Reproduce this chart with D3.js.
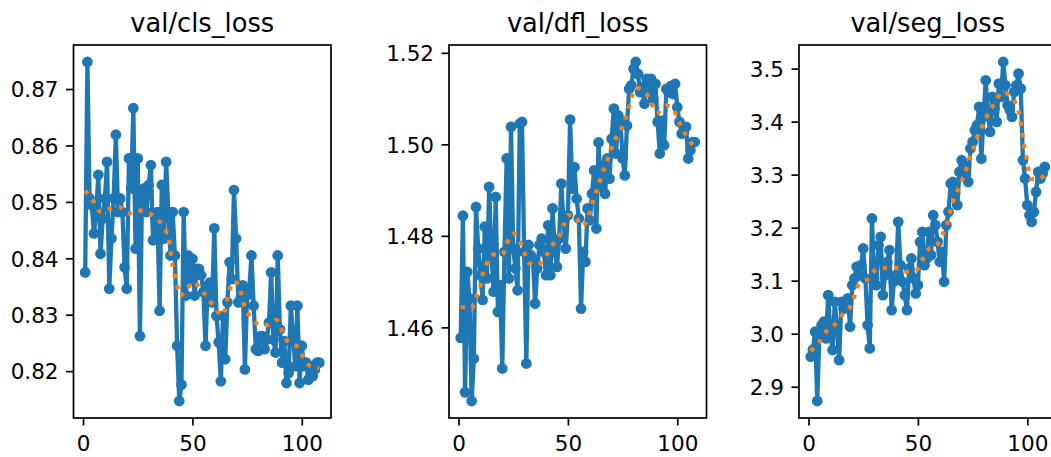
<!DOCTYPE html>
<html>
<head>
<meta charset="utf-8">
<script src="https://cdn.jsdelivr.net/npm/d3@7"></script>
<style>
  body { margin: 0; background: #fff; }
  svg { display: block; font-family: "DejaVu Sans", sans-serif; }
</style>
</head>
<body>
<div id="chart"></div>
<script>
// values, one per epoch (1..108)
let clsLoss = [
  0.8375, 0.8748, 0.8506, 0.8494, 0.8444, 0.8482, 0.8548, 0.8408, 0.8470, 0.8506,
  0.8571, 0.8346, 0.8435, 0.8506, 0.8619, 0.8482, 0.8506, 0.8482, 0.8384, 0.8346,
  0.8577, 0.8524, 0.8666, 0.8417, 0.8577, 0.8262, 0.8518, 0.8524, 0.8482, 0.8530,
  0.8565, 0.8432, 0.8470, 0.8482, 0.8307, 0.8530, 0.8435, 0.8571, 0.8480, 0.8405,
  0.8482, 0.8405, 0.8245, 0.8147, 0.8176, 0.8482, 0.8334, 0.8405, 0.8363, 0.8399,
  0.8334, 0.8381, 0.8381, 0.8370, 0.8340, 0.8245, 0.8352, 0.8357, 0.8322, 0.8453,
  0.8298, 0.8251, 0.8182, 0.8298, 0.8221, 0.8322, 0.8393, 0.8363, 0.8521, 0.8435,
  0.8322, 0.8328, 0.8352, 0.8203, 0.8334, 0.8346, 0.8405, 0.8316, 0.8239, 0.8236,
  0.8262, 0.8262, 0.8239, 0.8256, 0.8286, 0.8375, 0.8256, 0.8233, 0.8405, 0.8274,
  0.8215, 0.8253, 0.8179, 0.8197, 0.8316, 0.8262, 0.8209, 0.8316, 0.8179, 0.8245,
  0.8209, 0.8215, 0.8185, 0.8209, 0.8191, 0.8203, 0.8215, 0.8215
];
let dflLoss = [
  1.4577, 1.4844, 1.4458, 1.4721, 1.4663, 1.4439, 1.4532, 1.4863, 1.4772, 1.4714,
  1.4660, 1.4820, 1.4707, 1.4907, 1.4765, 1.4678, 1.4885, 1.4634, 1.4692, 1.4510,
  1.4765, 1.4969, 1.4707, 1.5038, 1.4772, 1.4729, 1.4681, 1.5045, 1.5049, 1.4765,
  1.4521, 1.4780, 1.4758, 1.4750, 1.4652, 1.4729, 1.4780, 1.4794, 1.4765, 1.4714,
  1.4823, 1.4714, 1.4860, 1.4765, 1.4732, 1.4794, 1.4914, 1.4830, 1.4772, 1.4845,
  1.5054, 1.4903, 1.4950, 1.4881, 1.4838, 1.4641, 1.4765, 1.4743, 1.4860, 1.4834,
  1.4892, 1.4943, 1.4816, 1.5004, 1.4907, 1.4954, 1.4892, 1.4969, 1.4925, 1.5012,
  1.5078, 1.4980, 1.5063, 1.5052, 1.4969, 1.4932, 1.5041, 1.5121, 1.5129, 1.5165,
  1.5180, 1.5154, 1.5114, 1.5125, 1.5089, 1.5143, 1.5114, 1.5143, 1.5100, 1.5132,
  1.5049, 1.4980, 1.5052, 1.4998, 1.5121, 1.5114, 1.5127, 1.5110, 1.5132, 1.5081,
  1.5049, 1.5023, 1.5027, 1.5038, 1.4969, 1.4987, 1.5005, 1.5005
];
let segLoss = [
  2.9566, 2.9700, 3.0037, 2.8730, 3.0037, 3.0163, 3.0225, 2.9911, 3.0728, 2.9974,
  2.9692, 3.0602, 3.0100, 2.9503, 3.0602, 3.0477, 3.0477, 3.0665, 3.0131, 3.0916,
  3.1042, 3.1262, 3.1105, 3.1293, 3.1607, 3.1042, 3.0163, 2.9723, 3.2173, 3.1042,
  3.0916, 3.1670, 3.1827, 3.0728, 3.1105, 3.1356, 3.1576, 3.0445, 3.0979, 3.1105,
  3.2110, 3.1293, 3.0979, 3.0728, 3.0445, 3.1230, 3.1419, 3.1042, 3.0759, 3.0916,
  3.1733, 3.1921, 3.1293, 3.1419, 3.1921, 3.1482, 3.2235, 3.2047, 3.1733, 3.1356,
  3.1545, 3.0979, 3.2047, 3.2298, 3.2832, 3.2864, 3.2644, 3.2424, 3.3052, 3.3272,
  3.3178, 3.3021, 3.2864, 3.3492, 3.3617, 3.3837, 3.3931, 3.4277, 3.3303, 3.4089,
  3.4779, 3.4151, 3.3806, 3.4465, 3.4246, 3.3994, 3.4717, 3.4465, 3.5125, 3.4685,
  3.4308, 3.4214, 3.4089, 3.4560, 3.4685, 3.4905, 3.4622, 3.3272, 3.2926, 3.2424,
  3.2235, 3.2110, 3.2298, 3.2675, 3.3052, 3.2926, 3.3021, 3.3146
];

// dotted "smooth" line as [epoch, value]
let clsSmooth = [
  [1, 0.8520], [5, 0.8500], [8, 0.8482], [12.5, 0.8488], [16.6, 0.8491], [20.5, 0.8479],
  [25, 0.8485], [29.6, 0.8481], [33.7, 0.8470], [36.9, 0.8455], [39.1, 0.8436], [40.6, 0.8396],
  [41.8, 0.8372], [42.9, 0.8353], [44.4, 0.8334], [47.2, 0.8343], [50.5, 0.8359], [54, 0.8344],
  [57.4, 0.8328], [60.6, 0.8310], [64, 0.8299], [66.7, 0.8340], [68.6, 0.8359], [71.2, 0.8352],
  [73.9, 0.8313], [77, 0.8295], [80.8, 0.8282], [84.6, 0.8282], [88.4, 0.8291], [91, 0.8271],
  [93.7, 0.8252], [98, 0.8243], [100.9, 0.8224], [104, 0.8208], [108, 0.8205]
];
let dflSmooth = [
  [1, 1.4645], [6, 1.4641], [8, 1.4665], [10, 1.4691], [11, 1.4714], [13, 1.4740],
  [16, 1.4759], [20, 1.4759], [22, 1.4783], [25, 1.4805], [28, 1.4789], [30, 1.4765],
  [32, 1.4741], [36, 1.4736], [40, 1.4756], [43, 1.4780], [46, 1.4799], [48, 1.4822],
  [50, 1.4845], [53, 1.4845], [56, 1.4822], [59, 1.4834], [60.5, 1.4860], [62, 1.4884],
  [64, 1.4909], [65.5, 1.4934], [67.5, 1.4958], [69, 1.4981], [71, 1.5005], [73.5, 1.5027],
  [76, 1.5050], [77.5, 1.5076], [79, 1.5101], [81, 1.5123], [85, 1.5116], [88, 1.5092],
  [90.5, 1.5068], [95, 1.5085], [98, 1.5078], [100.5, 1.5052], [103, 1.5028], [106, 1.5005],
  [108, 1.4995]
];
let segSmooth = [
  [1, 2.9673], [5, 2.9849], [8, 3.0037], [12, 3.0175], [15, 3.0338], [19.5, 3.0540],
  [23, 3.0929], [27.5, 3.1042], [31, 3.1218], [36, 3.1243], [40, 3.1243], [45, 3.1168],
  [49, 3.1186], [52, 3.1388], [54.5, 3.1576], [59, 3.1689], [61.5, 3.1890], [63.5, 3.2078],
  [65, 3.2330], [66.5, 3.2537], [68.5, 3.2738], [70.5, 3.2926], [72.5, 3.3146], [74, 3.3366],
  [75.7, 3.3542], [77.7, 3.3775], [80, 3.3963], [82.5, 3.4183], [85.3, 3.4359], [88.4, 3.4560],
  [93, 3.4453], [95.3, 3.4277], [96.8, 3.4057], [97.6, 3.3818], [98.3, 3.3605], [99.4, 3.3379],
  [100.2, 3.3165], [101.4, 3.2926], [105, 3.2914], [108, 3.3000]
];

let titles = ["val/cls_loss", "val/dfl_loss", "val/seg_loss"];
let xTicks = [0, 50, 100];
let clsTicks = [0.82, 0.83, 0.84, 0.85, 0.86, 0.87];
let dflTicks = [1.46, 1.48, 1.50, 1.52];
let segTicks = [2.9, 3.0, 3.1, 3.2, 3.3, 3.4, 3.5];

// layout
let width = 1051, height = 457;
let panelLefts = [73.5, 449, 799];
let panelTop = 45, panelW = 257.5, panelH = 373;
let fontSize = 21.5, titleSize = 25.7;
let blue = "#1f77b4", orange = "#ff7f0e";

let svg = d3.select("#chart").append("svg")
  .attr("width", width)
  .attr("height", height);

// matplotlib style 5% margins
function pad(ext) {
  let m = (ext[1] - ext[0]) * 0.05;
  return [ext[0] - m, ext[1] + m];
}

function drawPanel(i, values, smooth, yTicks, fmt) {
  let epochs = values.map((d, j) => j + 1);
  let g = svg.append("g")
    .attr("transform", "translate(" + panelLefts[i] + "," + panelTop + ")");

  let xScale = d3.scaleLinear().domain(pad(d3.extent(epochs))).range([0, panelW]);
  let yScale = d3.scaleLinear().domain(pad(d3.extent(values))).range([panelH, 0]);

  // data line + markers
  let line = d3.line()
    .x((d, j) => xScale(epochs[j]))
    .y(d => yScale(d));
  g.append("path")
    .datum(values)
    .attr("fill", "none")
    .attr("stroke", blue)
    .attr("stroke-width", 4.3)
    .attr("stroke-linejoin", "round")
    .attr("d", line);
  g.append("g").selectAll("circle")
    .data(values)
    .join("circle")
    .attr("cx", (d, j) => xScale(epochs[j]))
    .attr("cy", d => yScale(d))
    .attr("r", 4.4)
    .attr("fill", blue)
    .attr("stroke", blue)
    .attr("stroke-width", 2);

  // smooth dotted line
  let smoothLine = d3.line()
    .x(d => xScale(d[0]))
    .y(d => yScale(d[1]))
    .curve(d3.curveMonotoneX);
  g.append("path")
    .datum(smooth)
    .attr("fill", "none")
    .attr("stroke", orange)
    .attr("stroke-width", 4.3)
    .attr("stroke-dasharray", "4.3 7.1")
    .attr("d", smoothLine);

  // axes
  let xAxis = d3.axisBottom(xScale).tickValues(xTicks).tickSize(7.5).tickPadding(10);
  let yAxis = d3.axisLeft(yScale).tickValues(yTicks).tickFormat(d3.format(fmt)).tickSize(7.5).tickPadding(7.5);

  let gx = g.append("g")
    .attr("transform", "translate(0," + panelH + ")")
    .call(xAxis);
  let gy = g.append("g").call(yAxis);

  [gx, gy].forEach(a => {
    a.attr("font-size", fontSize).attr("font-family", "DejaVu Sans, sans-serif");
    a.select(".domain").remove();
    a.selectAll(".tick line").attr("stroke", "#000").attr("stroke-width", 1.7);
    a.selectAll(".tick text").attr("fill", "#000");
  });
  gy.selectAll(".tick text").attr("dy", "0.36em");

  // spines
  g.append("rect")
    .attr("width", panelW)
    .attr("height", panelH)
    .attr("fill", "none")
    .attr("stroke", "#000")
    .attr("stroke-width", 1.7);

  // title
  g.append("text")
    .attr("x", panelW / 2)
    .attr("y", -13.5)
    .attr("text-anchor", "middle")
    .attr("font-size", titleSize)
    .attr("fill", "#000")
    .text(titles[i]);
}

drawPanel(0, clsLoss, clsSmooth, clsTicks, ".2f");
drawPanel(1, dflLoss, dflSmooth, dflTicks, ".2f");
drawPanel(2, segLoss, segSmooth, segTicks, ".1f");
</script>
</body>
</html>
